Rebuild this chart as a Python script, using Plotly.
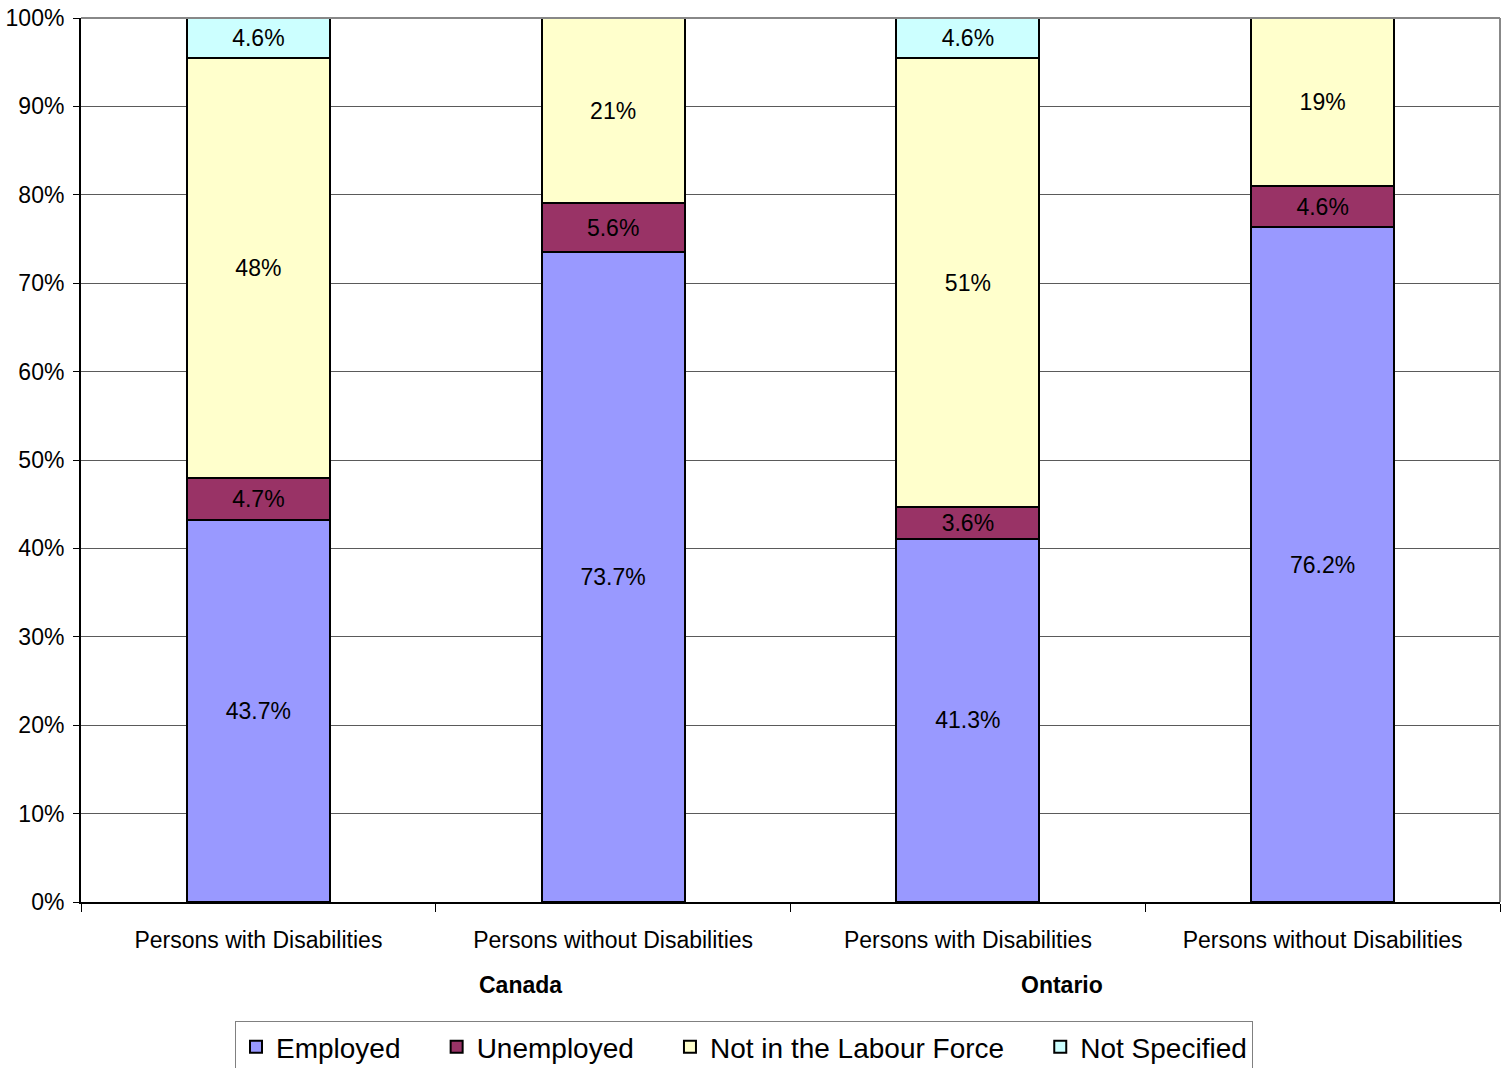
import plotly.graph_objects as go

# Data
positions = [0, 1, 2, 3]
categories = ["Persons with Disabilities", "Persons without Disabilities",
              "Persons with Disabilities", "Persons without Disabilities"]
regions = ["Canada", "Ontario"]
employed = [43.7, 73.7, 41.3, 76.2]
unemployed = [4.7, 5.6, 3.6, 4.6]
not_in_lf = [48, 21, 51, 19]
not_specified = [4.6, 0, 4.6, 0]

employed_text = ["43.7%", "73.7%", "41.3%", "76.2%"]
unemployed_text = ["4.7%", "5.6%", "3.6%", "4.6%"]
not_in_lf_text = ["48%", "21%", "51%", "19%"]
not_specified_text = ["4.6%", "", "4.6%", ""]

series_names = ["Employed", "Unemployed", "Not in the Labour Force", "Not Specified"]

PAD = "\u00a0" * 4
series = [
    (series_names[0] + PAD, employed, employed_text, "#9999FF"),
    (series_names[1] + PAD, unemployed, unemployed_text, "#993366"),
    (series_names[2] + PAD, not_in_lf, not_in_lf_text, "#FFFFCC"),
    (series_names[3], not_specified, not_specified_text, "#CCFFFF"),
]

FONT = "Liberation Sans, Arial, sans-serif"

fig = go.Figure()
for name, vals, txt, color in series:
    fig.add_trace(go.Bar(
        x=positions, y=vals, name=name, text=txt,
        textposition="inside", insidetextanchor="middle",
        textangle=0, constraintext="none",
        textfont=dict(family=FONT, size=23, color="black"),
        marker=dict(color=color, line=dict(color="black", width=2)),
        width=0.403, hoverinfo="skip",
    ))

fig.update_layout(
    width=1507, height=1068,
    margin=dict(l=81, r=7, t=18, b=166, autoexpand=False),
    barmode="stack", barnorm="percent",
    plot_bgcolor="white", paper_bgcolor="white",
    font=dict(family=FONT, size=23, color="black"),
    showlegend=True,
    legend=dict(
        orientation="h", xref="container", yref="container",
        x=744 / 1507, xanchor="center", y=(1068 - 1021) / 1068, yanchor="top",
        font=dict(family=FONT, size=28, color="black"),
        bordercolor="#808080", borderwidth=1, traceorder="normal",
    ),
    xaxis=dict(
        range=[-0.5, 3.5], tickvals=positions, ticktext=categories,
        ticks="", showgrid=False, zeroline=False, automargin=False,
        showline=True, linecolor="black", linewidth=2,
        tickfont=dict(family=FONT, size=23, color="black"),
        ticklabelstandoff=16,
        minor=dict(ticks="outside", tick0=-0.5, dtick=1, ticklen=8,
                   tickcolor="black", tickwidth=1, showgrid=False),
    ),
    yaxis=dict(
        range=[0, 100], dtick=10, ticksuffix="%", automargin=False,
        showgrid=True, gridcolor="#5a5a5a", gridwidth=1,
        zeroline=False, showline=True, linecolor="black", linewidth=2,
        ticks="outside", ticklen=6, tickcolor="black",
        tickfont=dict(family=FONT, size=23, color="black"),
        ticklabelstandoff=4,
    ),
)

# right and top border of plot area
fig.add_shape(type="line", xref="paper", yref="paper", x0=1, x1=1, y0=0, y1=1,
              line=dict(color="#888888", width=2))
fig.add_shape(type="line", xref="paper", yref="paper", x0=0, x1=1, y0=1, y1=1,
              line=dict(color="#888888", width=2))

for label, xp in zip(regions, [0.310, 0.691]):
    fig.add_annotation(text="<b>" + label + "</b>", xref="paper", yref="paper",
                       x=xp, y=-0.094, xanchor="center", yanchor="middle",
                       showarrow=False,
                       font=dict(family=FONT, size=23, color="black"))

fig.write_html("out.html")
